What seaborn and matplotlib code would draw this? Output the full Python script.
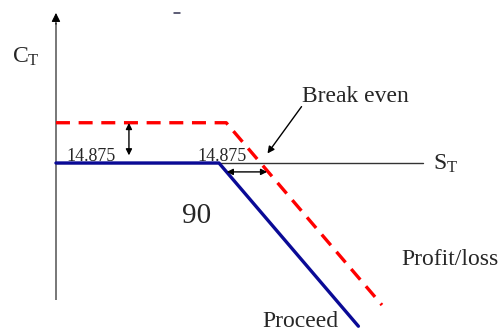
import matplotlib
matplotlib.use("Agg")
import matplotlib.pyplot as plt
import seaborn as sns
import pandas as pd

sns.set_theme(style="white")
plt.rcParams["font.family"] = ["Liberation Serif", "DejaVu Serif"]
plt.rcParams["mathtext.fontset"] = "custom"
plt.rcParams["mathtext.rm"] = "Liberation Serif"
plt.rcParams["mathtext.it"] = "Liberation Serif"

# Payoff at expiry against the stock price S_T (schematic units)
proceed_s = [0, 90, 167]
proceed_p = [0, 0, -77]
profit_s = [0, 94, 180]
profit_p = [19, 19, -67]
premium_label = "14.875"
strike_label = "90"

proceed = pd.DataFrame({"S": proceed_s, "P": proceed_p})
profit = pd.DataFrame({"S": profit_s, "P": profit_p})

fig = plt.figure(figsize=(5.04, 3.33), dpi=100)
ax = fig.add_axes([0, 0, 1, 1])
ax.set_xlim(-30.9, 247.4)
ax.set_ylim(-80.2, 76.9)
ax.axis("off")

# axes of the diagram
ax.plot([0, 202.6], [0, 0], color="#333333", lw=1.0, zorder=1)
ax.plot([0, 0], [-64.6, 66.0], color="#777777", lw=1.4, zorder=1,
        solid_capstyle="butt")
ax.annotate("", xy=(0, 70.8), xytext=(0, 65.5),
            arrowprops=dict(arrowstyle="-|>", color="black", lw=0.8,
                            mutation_scale=13, shrinkA=0, shrinkB=0),
            zorder=2)
# small stroke near the top edge
ax.plot([65.2, 68.6], [70.8, 70.8], color="#303050", lw=1.1, zorder=1)

sns.lineplot(data=proceed, x="S", y="P", ax=ax, color="#0a0a96", lw=2.4,
             sort=False, estimator=None, zorder=3)
sns.lineplot(data=profit, x="S", y="P", ax=ax, color="#ff0000", lw=2.4,
             sort=False, estimator=None, zorder=3, dashes=False)
ax.lines[-1].set_dashes([4.2, 2.6])

dbl = dict(arrowstyle="<|-|>", color="black", lw=1.0, mutation_scale=9,
           shrinkA=0, shrinkB=0)
ax.annotate("", xy=(40.3, 18.9), xytext=(40.3, 3.6), arrowprops=dbl)
ax.annotate("", xy=(94.3, -4.2), xytext=(116.6, -4.2), arrowprops=dbl)
ax.annotate("", xy=(116.8, 4.5), xytext=(135.6, 26.6),
            arrowprops=dict(arrowstyle="-|>", color="black", lw=1.0,
                            mutation_scale=10, shrinkA=0, shrinkB=0))

ax.text(5.8, 0.8, premium_label, fontsize=13, ha="left", va="baseline")
ax.text(78.0, 0.8, premium_label, fontsize=13, ha="left", va="baseline")
ax.text(69.4, -28.3, strike_label, fontsize=21, ha="left", va="baseline")
ax.text(135.8, 28.8, "Break even", fontsize=17, ha="left", va="baseline")
ax.text(190.5, -48.1, "Profit/loss", fontsize=17, ha="left", va="baseline")
ax.text(113.7, -77.6, "Proceed", fontsize=17, ha="left", va="baseline")
ax.text(-24.3, 47.2, r"C$_{\mathrm{T}}$", fontsize=17, ha="left", va="baseline")
ax.text(208.0, -3.3, r"S$_{\mathrm{T}}$", fontsize=17, ha="left", va="baseline")

fig.savefig("out.png", dpi=100)
